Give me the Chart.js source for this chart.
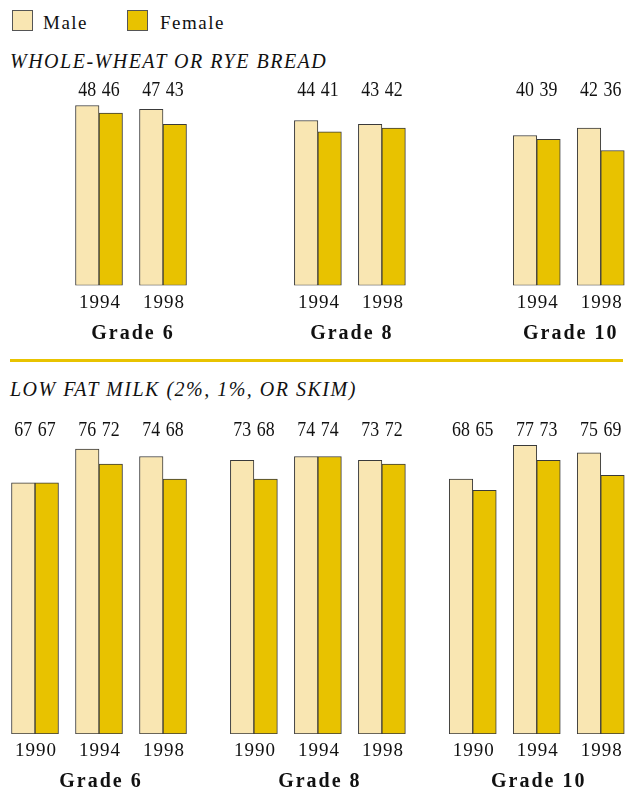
<!DOCTYPE html>
<html>
<head>
<meta charset="utf-8">
<script src="https://cdn.jsdelivr.net/npm/chart.js@4/dist/chart.umd.min.js"></script>
<style>
  html, body { margin: 0; padding: 0; background: #fff; }
  body { width: 635px; height: 806px; position: relative; overflow: hidden;
         font-family: 'Liberation Serif', 'Times New Roman', serif; color: #111; }
  .abs { position: absolute; }
  .swatch { width: 21px; height: 21px; border: 1px solid #555; box-sizing: border-box; }
  .legend-text { font-size: 19px; line-height: 19px; letter-spacing: 1.5px; white-space: nowrap; }
  .title { font-size: 20px; line-height: 20px; letter-spacing: 1.5px; font-style: italic; white-space: nowrap; }
  .rule { background: #E8C300; }
</style>
</head>
<body>
<div class="abs swatch" style="left:12px;top:10px;background:#F9E6B2"></div>
<div class="abs legend-text" style="left:43px;top:13px">Male</div>
<div class="abs swatch" style="left:127px;top:10px;background:#E8C200"></div>
<div class="abs legend-text" style="left:160px;top:13px">Female</div>

<div class="abs title" style="left:10px;top:51px">WHOLE-WHEAT OR RYE BREAD</div>
<div class="abs" style="left:0;top:70px;width:635px;height:280px"><canvas id="bread"></canvas></div>

<div class="abs rule" style="left:10px;top:359px;width:613px;height:3px"></div>

<div class="abs title" style="left:10px;top:379px">LOW FAT MILK (2%, 1%, OR SKIM)</div>
<div class="abs" style="left:0;top:400px;width:635px;height:406px"><canvas id="milk"></canvas></div>

<script>
// Grades and survey years
const grades = ['Grade 6', 'Grade 8', 'Grade 10'];
const milkYears = ['1990', '1994', '1998'];
const breadYears = ['1994', '1998'];

// Whole-wheat or rye bread (%), per grade: 1994, 1998
const breadMale   = [48, 47, 44, 43, 40, 42];
const breadFemale = [46, 43, 41, 42, 39, 36];

// Low fat milk (%), per grade: 1990, 1994, 1998
const milkMale   = [67, 76, 74, 73, 74, 73, 68, 77, 75];
const milkFemale = [67, 72, 68, 68, 74, 72, 65, 73, 69];

const MALE_COLOR = '#F9E6B2';
const FEMALE_COLOR = '#E8C200';
const SERIF = "'Liberation Serif', 'Times New Roman', serif";

// Slot layout on the linear x axis: three year slots per grade, wider gap between grades
const GROUP_STRIDE = 3.42;
const slotOf = (g, yearIdx) => g * GROUP_STRIDE + yearIdx;

function buildSeries(values, years) {
  const offset = milkYears.indexOf(years[0]);
  const pts = [];
  grades.forEach((_, g) => {
    years.forEach((_, j) => {
      pts.push({ x: slotOf(g, offset + j), y: values[g * years.length + j] });
    });
  });
  return pts;
}

const annotate = {
  id: 'annotate',
  afterDatasetsDraw(chart, args, opts) {
    const ctx = chart.ctx;
    const xs = chart.scales.x, ys = chart.scales.y;
    const zero = ys.getPixelForValue(0);
    ctx.save();
    ctx.fillStyle = '#111';
    ctx.textAlign = 'center';
    ctx.textBaseline = 'alphabetic';

    // values above every bar, on a common line
    const labelY = ys.getPixelForValue(opts.labelLevel);
    ctx.font = '21px ' + SERIF;
    chart.data.datasets.forEach((ds, di) => {
      chart.getDatasetMeta(di).data.forEach((bar, i) => {
        ctx.save();
        ctx.translate(bar.x, labelY);
        ctx.scale(0.85, 1);
        ctx.fillText(String(ds.data[i].y), 0, 0);
        ctx.restore();
      });
    });

    // year labels under each pair and grade labels under each group
    const offset = milkYears.indexOf(opts.years[0]);
    grades.forEach((grade, g) => {
      const px = [];
      opts.years.forEach((yr, j) => {
        const x = xs.getPixelForValue(slotOf(g, offset + j));
        px.push(x);
        ctx.font = '19px ' + SERIF;
        ctx.letterSpacing = '1px';
        ctx.fillText(yr, x + 1, zero + 22);
      });
      const cx = px.reduce((a, b) => a + b, 0) / px.length;
      ctx.font = 'bold 20px ' + SERIF;
      ctx.letterSpacing = '2px';
      ctx.fillText(grade, cx + 2, zero + 53);
    });
    ctx.restore();
  }
};

function makeChart(id, male, female, years, yMax, labelLevel, padTop, padBottom) {
  return new Chart(document.getElementById(id), {
    type: 'bar',
    data: {
      datasets: [
        { label: 'Male', data: buildSeries(male, years), backgroundColor: MALE_COLOR },
        { label: 'Female', data: buildSeries(female, years), backgroundColor: FEMALE_COLOR }
      ]
    },
    options: {
      responsive: true,
      maintainAspectRatio: false,
      animation: false,
      layout: { padding: { top: padTop, bottom: padBottom, left: 3, right: 2 } },
      datasets: {
        bar: { barThickness: 23.5, borderWidth: 1, borderColor: '#3a3a3a', borderSkipped: false }
      },
      scales: {
        x: { type: 'linear', offset: false, min: -0.5, max: -0.5 + 630 / 64, display: false },
        y: { min: 0, max: yMax, display: false }
      },
      plugins: {
        legend: { display: false },
        tooltip: { enabled: false },
        annotate: { years, labelLevel }
      }
    },
    plugins: [annotate]
  });
}

makeChart('bread', breadMale, breadFemale, breadYears, 50, 50.5, 28, 64.5);
makeChart('milk', milkMale, milkFemale, milkYears, 80, 79.5, 34, 72);
</script>
</body>
</html>
